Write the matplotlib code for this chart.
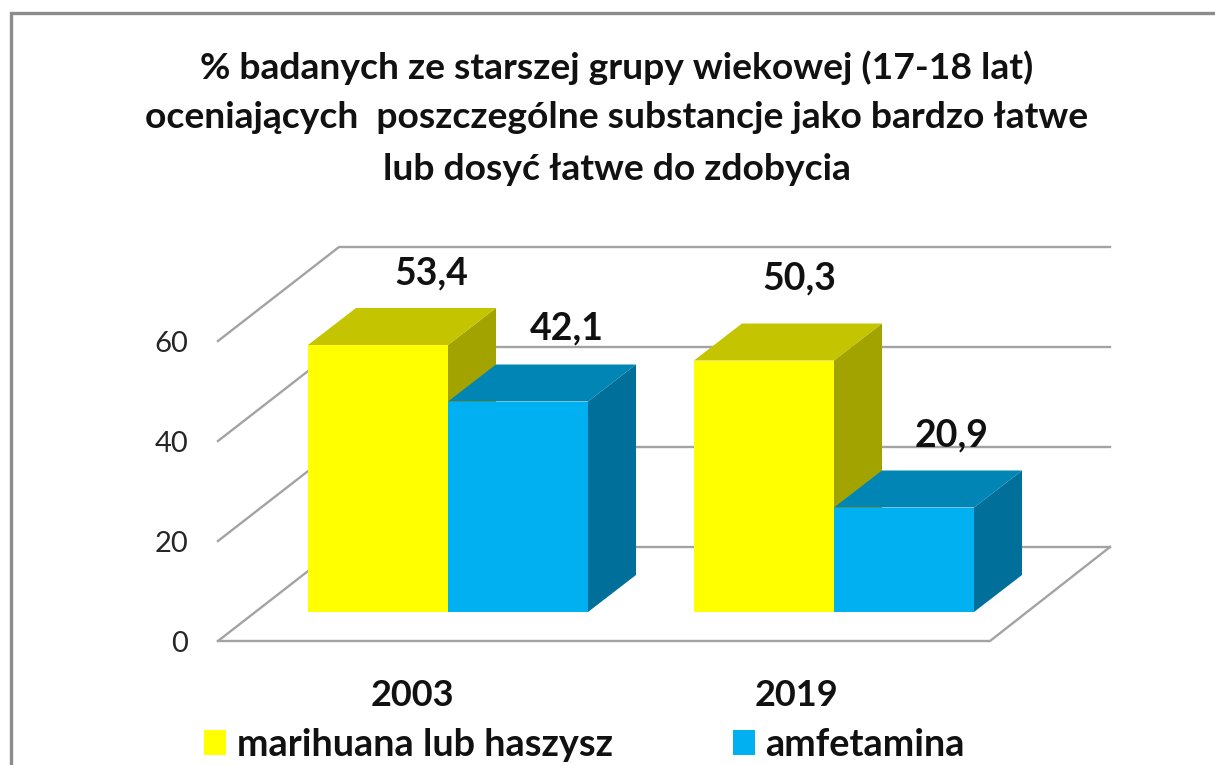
import matplotlib
matplotlib.use("Agg")
import matplotlib.pyplot as plt
import numpy as np

plt.rcParams['font.family'] = ['Lato', 'DejaVu Sans']

years = ["2003", "2019"]
substances = ["marihuana lub haszysz", "amfetamina"]
marihuana = [53.4, 50.3]
amfetamina = [42.1, 20.9]
y_ticks = [0, 20, 40, 60]
title_lines = [
    "% badanych ze starszej grupy wiekowej (17-18 lat)",
    "oceniających  poszczególne substancje jako bardzo łatwe",
    "lub dosyć łatwe do zdobycia",
]

W, H = 1215, 765
PX_X = 386.0  # pixels per category
PX_Y = 5.0    # pixels per percent
X0, Y0 = 448.0, 612.0  # pixel of first category centre, value 0 on the bar front


def dx(px):
    return px / PX_X


def dy(px):
    return px / PX_Y


fig = plt.figure(figsize=(W / 100, H / 100), dpi=100, facecolor="white")
ax = fig.add_axes([0, 0, 1, 1])
ax.set_xlim(-X0 / PX_X, (W - X0) / PX_X)
ax.set_ylim((Y0 - H) / PX_Y, Y0 / PX_Y)
ax.axis("off")

# outer frame of the cropped slide
frame_color = "#8c8c8c"
ax.plot(ax.get_xlim()[0] + dx(np.array([10.5, 10.5, W])),
        ax.get_ylim()[1] - dy(np.array([H, 12.5, 12.5])),
        color=frame_color, lw=2.4, solid_joinstyle="miter")

# walls and floor
grid_color = "#a3a3a3"
wall_x0 = dx(339 - X0)
wall_x1 = dx(1110 - X0)
side_x0 = dx(218 - X0)
back_off = dy(Y0 - 547)
front_off = dy(Y0 - 641)
for v in y_ticks:
    ax.plot([side_x0, wall_x0, wall_x1],
            [v + front_off, v + back_off, v + back_off],
            color=grid_color, lw=1.7, solid_joinstyle="miter", zorder=1)
ax.plot([wall_x1, dx(990 - X0), side_x0],
        [back_off, front_off, front_off],
        color=grid_color, lw=1.7, solid_joinstyle="miter", zorder=1)

for v in y_ticks:
    ax.text(dx(188 - X0), v + front_off, str(v), ha="right", va="center_baseline",
            fontsize=21, color="#262626")

# 3D bars
bar_w = 140 / PX_X
depth_x = dx(48)
depth_y = dy(37)
series = [
    (marihuana, -bar_w / 2, "#ffff00", "#c4c400", "#a3a300", substances[0]),
    (amfetamina, bar_w / 2, "#00b0f0", "#0085b5", "#00709a", substances[1]),
]
positions = np.arange(len(years))
for i in positions:
    for vals, off, front, top, side, label in series:
        left = i + off - bar_w / 2
        right = left + bar_w
        v = vals[i]
        ax.fill([right, right + depth_x, right + depth_x, right],
                [0, depth_y, v + depth_y, v], color=side, lw=0, zorder=3)
        ax.fill([left, left + depth_x, right + depth_x, right],
                [v, v + depth_y, v + depth_y, v], color=top, lw=0, zorder=3)
        ax.bar(left + bar_w / 2, v, width=bar_w, color=front, lw=0, zorder=3)

# value labels, pixel nudges from the bar's top-centre
label_nudges = {(0, 0): (53, 72), (0, 1): (49, 73), (1, 0): (35, 82), (1, 1): (48, 72)}
for i in positions:
    for s, (vals, off, *_rest) in enumerate(series):
        nx, ny = label_nudges[(i, s)]
        ax.text(i + off + dx(nx), vals[i] + dy(ny), f"{vals[i]:.1f}".replace(".", ","),
                ha="center", va="center", fontsize=27, fontweight="bold",
                color="#111111", zorder=5)

# category labels
for i in positions:
    ax.text(i + dx(-36 if i == 0 else -38), dy(Y0 - 696), years[i], ha="center", va="center",
            fontsize=26, fontweight="bold", color="#111111")

# title
for line, py in zip(title_lines, [68, 118, 170]):
    ax.text(dx(617 - X0), dy(Y0 - py), line, ha="center", va="center",
            fontsize=26.8, fontweight="bold", color="#111111")

# legend
handles = [plt.Rectangle((0, 0), 1, 1, color=series[0][2], lw=0),
           plt.Rectangle((0, 0), 1, 1, color=series[1][2], lw=0)]
ax.legend(handles, substances, ncol=2, frameon=False,
          prop={"weight": "bold", "size": 27.3},
          loc="lower left", bbox_to_anchor=(196.5 / W, -0.006), borderaxespad=0, borderpad=0.2,
          handlelength=0.58, handleheight=0.63, handletextpad=0.29, columnspacing=3.15,
          labelcolor="#111111")

fig.savefig("out.png", dpi=100)
